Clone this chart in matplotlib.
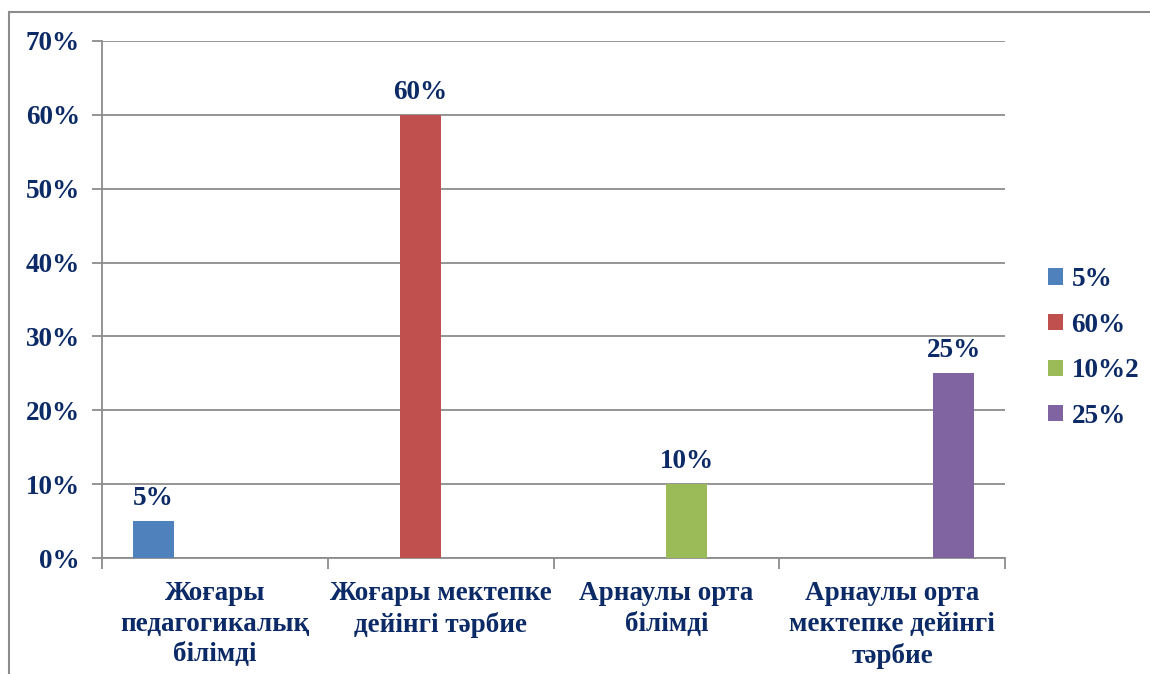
import matplotlib
matplotlib.use("Agg")
import matplotlib.pyplot as plt
import numpy as np
from matplotlib.patches import Rectangle

categories = ["Жоғары\nпедагогикалық\nбілімді", "Жоғары мектепке\nдейінгі тәрбие",
              "Арнаулы орта\nбілімді", "Арнаулы орта\nмектепке дейінгі\nтәрбие"]
series_names = ["5%", "60%", "10%2", "25%"]
series_values = [
    [5, 0, 0, 0],
    [0, 60, 0, 0],
    [0, 0, 10, 0],
    [0, 0, 0, 25],
]
label_texts = ["5%", "60%", "10%", "25%"]
colors = ["#4F81BD", "#C0504D", "#9BBB59", "#8064A2"]
yticks = [0, 10, 20, 30, 40, 50, 60, 70]

navy = "#0B2A66"
grid_c = "#8C8C8C"
plt.rcParams['font.family'] = ['Liberation Serif', 'DejaVu Serif']
plt.rcParams['font.weight'] = 'bold'

FS = 19.5

fig = plt.figure(figsize=(11.5, 6.74), dpi=100)
ax = fig.add_axes([102/1150, 1-558/674, (1005-102)/1150, (558-41)/674])

n = len(series_names)
w = 1/(n+1.5)
x = np.arange(len(categories))
handles = []
for i in range(n):
    offs = (i - (n-1)/2) * w
    b = ax.bar(x + offs, series_values[i], width=w, color=colors[i], label=series_names[i], zorder=3)
    handles.append(b)
    for j, v in enumerate(series_values[i]):
        if v > 0:
            ax.text(x[j] + offs, v + 1.4, label_texts[i], ha='center', va='bottom',
                    fontsize=FS, fontweight='bold', color=navy)

ax.set_xlim(-0.5, len(categories) - 0.5)
ax.set_ylim(0, 70)
ax.set_yticks(yticks)
ax.set_yticklabels([f"{t}%" for t in yticks], fontsize=FS, fontweight='bold', color=navy)
ax.yaxis.grid(True, color=grid_c, linewidth=1.3, zorder=0)
ax.set_xticks(np.arange(len(categories)+1) - 0.5, minor=False)
ax.set_xticklabels([])
ax.set_xticks(x, minor=True)
ax.set_xticklabels(categories, minor=True, fontsize=FS, fontweight='bold', color=navy, linespacing=1.3)
ax.tick_params(axis='x', which='minor', length=0, pad=16.5)
ax.tick_params(axis='x', which='major', length=8, color=grid_c, width=1.3, direction='out')
ax.tick_params(axis='y', length=7, color=grid_c, width=1.3, pad=9)
for s in ['top', 'right']:
    ax.spines[s].set_visible(False)
for s in ['left', 'bottom']:
    ax.spines[s].set_color(grid_c)
    ax.spines[s].set_linewidth(1.3)

leg = fig.legend(handles=handles, labels=series_names, loc='center left',
                 bbox_to_anchor=(1024/1150, 1-348/674), frameon=False,
                 prop={'family': 'Liberation Serif', 'weight': 'bold', 'size': FS},
                 handlelength=0.55, handleheight=0.55, handletextpad=0.3, labelspacing=0.76)
for t in leg.get_texts():
    t.set_color(navy)

fig.patches.append(Rectangle((9/1150, -0.1), 1.2, 1.1 - 12/674, transform=fig.transFigure,
                             fill=False, edgecolor='#8C8C8C', linewidth=1.5))

fig.savefig("out.png", dpi=100)
